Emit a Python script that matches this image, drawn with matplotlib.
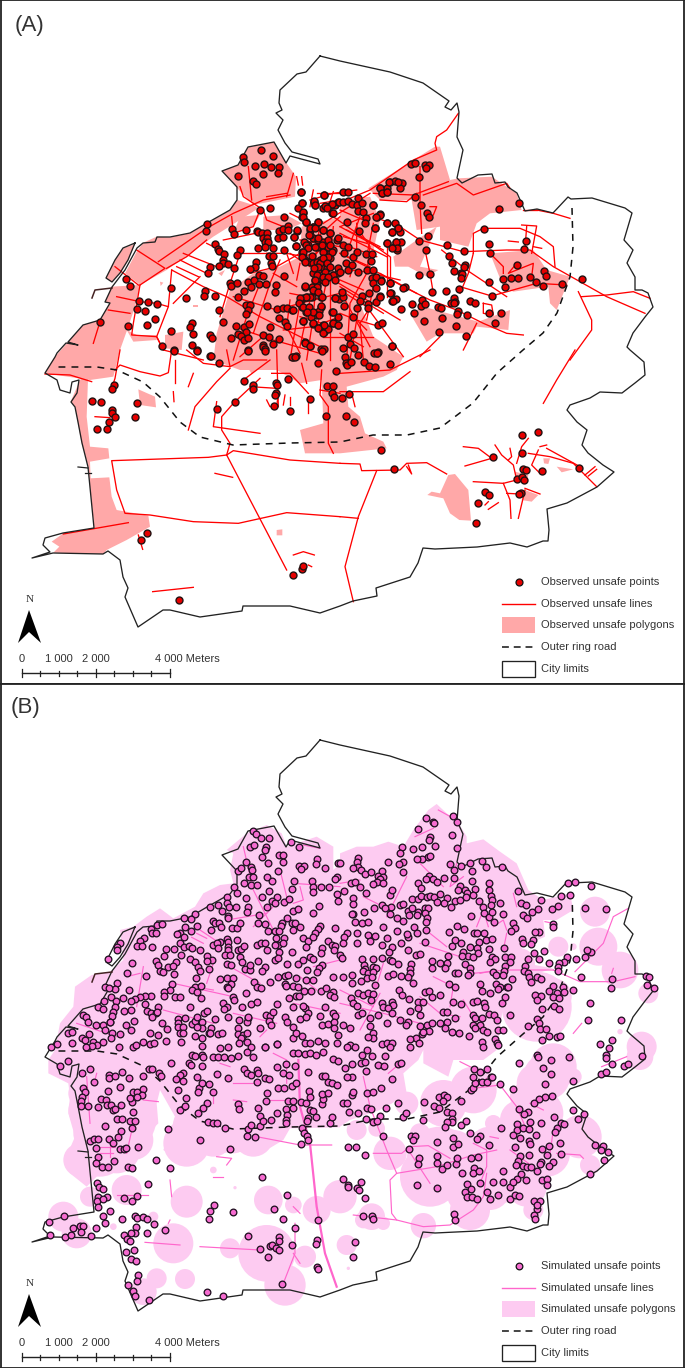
import matplotlib
matplotlib.use("Agg")
import matplotlib.pyplot as plt
from matplotlib.patches import Polygon, Circle, Rectangle

plt.rcParams['font.family'] = ['Liberation Sans', 'DejaVu Sans']

# ---------- map data in map pixels ----------
city_limits = [(320,56),(306,72),(297,74),(280,90),(279,103),(282,110),(276,113),(283,120),(278,130),(285,143),(292,152),(318,159),(320,164),(290,156),(286,163),(274,142),(248,147),(238,165),(222,171),(237,187),(237,200),(230,210),(207,223),(190,233),(170,237),(157,237),(155,242),(143,243),(137,248),(125,270),(112,287),(105,302),(110,303),(100,320),(83,325),(68,342),(78,345),(66,343),(57,353),(55,357),(45,373),(57,380),(60,390),(70,393),(72,382),(79,380),(77,393),(71,402),(75,407),(78,422),(82,443),(88,467),(90,487),(94,528),(63,533),(45,538),(43,545),(50,552),(32,558),(53,553),(103,554),(108,551),(120,560),(123,577),(128,588),(125,597),(138,627),(163,610),(170,610),(200,617),(242,611),(243,606),(290,606),(320,613),(340,606),(353,601),(377,596),(376,588),(410,577),(418,563),(423,548),(435,549),(477,547),(510,543),(527,547),(543,541),(548,541),(549,530),(547,509),(567,503),(597,487),(614,472),(603,465),(588,453),(582,445),(587,430),(577,422),(567,410),(570,405),(590,398),(600,392),(622,393),(635,383),(645,375),(644,362),(630,350),(627,347),(633,333),(645,317),(653,307),(648,293),(642,290),(635,290),(635,277),(627,263),(633,250),(624,240),(632,213),(625,208),(592,198),(571,199),(568,197),(553,213),(537,209),(525,211),(517,193),(508,187),(505,182),(495,183),(492,174),(478,175),(462,183),(457,178),(463,150),(457,137),(459,112),(457,103),(451,110),(445,107),(449,101),(423,83),(390,72),(340,61),(320,56)]
city_islet = [(135,243),(123,248),(115,260),(106,278),(112,282),(120,273),(128,260),(135,243)]
city_spur = [(92,298),(95,290),(112,288)]
city_pier_a = [(78,467),(88,468)]
city_pier_b = [(85,473),(91,473)]
ring_road = [(572,208),(573,247),(570,277),(557,313),(543,333),(523,350),(497,373),(473,403),(440,428),(407,435),(373,435),(340,442),(290,443),(233,445),(200,437),(180,422),(160,397),(143,382),(117,370),(97,367),(57,367)]

# observed polygons (crop coordinates: x/3+x0, y/3+y0)
C1, C2, C3, C4 = (0,40), (340,40), (0,350), (340,350)
C5, C6, C7, C8 = (0,46), (340,46), (0,356), (340,356)
C9 = (290,180)

def m(rows, c):
    return [(x/3 + c[0], y/3 + c[1]) for x, y in rows]

obs_polygons = [
    m([(745,322),(822,306),(860,370),(888,410),(885,470),(760,495),(712,445),(667,392),(715,375)], C1),
    m([(430,608),(470,590),(510,592),(570,580),(620,550),(690,510),(712,480),(760,495),(775,505),(640,590),(500,690),(420,735),(375,700),(410,635)], C1),
    m([(405,612),(370,625),(345,660),(318,715),(335,725),(360,700),(385,660)], C1),
    m([(335,740),(420,735),(405,800),(385,860),(360,930),(340,1010),(270,1020),(135,1000),(165,950),(205,905),(250,855),(300,840),(330,790),(315,785)], C1),
    m([(240,90),(265,60),(260,200),(270,290),(325,295),(328,325),(270,335),(272,385),(328,382),(335,440),(350,480),(445,497),(450,530),(380,570),(320,600),(310,612),(160,608),(178,590),(155,575),(190,550),(283,535),(270,410),(265,350),(245,280),(225,170),(212,155)], C3),
    m([(415,118),(465,140),(468,172),(420,165)], C3),
    m([(830,540),(847,538),(847,556),(830,556)], C3),
    m([(745,55),(768,60),(755,72)], C3),
    m([(495,885),(550,875),(545,930),(495,925)], C1),
    m([(380,870),(410,885),(470,885),(470,900),(400,905)], C1),
    m([(720,530),(780,525),(760,560),(700,580)], C1),
    m([(790,530),(860,525),(905,550),(860,570),(790,570)], C1),
    m([(655,700),(675,690),(665,708)], C1),
    m([(580,795),(595,795),(595,802),(580,802)], C1),
    m([(480,725),(490,728),(482,738)], C1),
    m([(650,880),(690,750),(760,700),(840,680),(900,650),(905,560),(1020,530),(1020,480),(1110,470),(1140,540),(1110,680),(1140,780),(1080,790),(1120,890),(1210,950),(1190,990),(1150,1010),(1040,1040),(1045,1100),(1080,1130),(1095,1180),(1150,1205),(1160,1225),(1020,1240),(915,1240),(900,1170),(970,1150),(965,1020),(900,1030),(830,990),(720,990),(640,960)], C1),
    m([(85,445),(220,360),(285,320),(300,320),(330,420),(355,415),(455,410),(530,460),(545,510),(450,520),(410,550),(385,620),(300,600),(300,560),(230,570),(215,480),(120,480)], C2),
    m([(160,650),(230,600),(290,560),(240,680),(295,690),(260,710),(205,680),(165,680)], C2),
    m([(450,640),(580,630),(620,690),(690,710),(650,810),(630,790),(625,740),(520,755),(490,740)], C2),
    m([(250,800),(415,845),(510,810),(505,870),(410,860),(400,880),(300,880),(260,905),(210,820)], C2),
    m([(325,375),(345,372),(385,420),(393,512),(358,510),(330,490),(310,445),(262,435),(275,425),(300,430)], C4),
    m([(555,420),(595,435),(575,455),(545,450)], C4),
    m([(525,365),(565,375),(560,400),(525,395)], C4),
    m([(610,325),(630,325),(625,342),(612,340)], C4),
    m([(650,350),(700,358),(665,367)], C4),
]

# observed lines
obs_lines_c1 = [
 [(475,665),(620,565),(700,520),(790,480),(870,465)], [(410,630),(495,685),(420,735)], [(345,680),(415,735)],
 [(350,770),(420,785),(470,790),(505,800),(515,690)], [(325,810),(390,820)], [(300,845),(280,910)],
 [(420,735),(400,850),(395,885),(470,890),(490,930)], [(505,800),(470,890),(490,930),(610,960)], [(500,685),(560,650),(620,600)],
 [(670,600),(790,575)], [(695,530),(700,580)], [(780,510),(760,560),(700,580)], [(530,680),(595,710)], [(550,640),(650,680)], [(540,660),(620,700)],
 [(600,710),(520,790)], [(515,690),(610,740),(680,770),(780,830),(880,880),(960,920)], [(720,440),(730,470),(790,510)], [(745,380),(755,480)],
 [(790,510),(800,540),(850,560)], [(660,830),(690,730),(720,640)], [(720,640),(800,640)], [(780,730),(740,830),(700,960)], [(840,660),(810,730),(790,790),(760,880)],
 [(800,640),(860,640),(910,650),(950,700),(1020,680)], [(860,470),(880,400)], [(890,410),(895,435)], [(905,410),(908,435)], [(800,470),(860,460)],
 [(750,700),(830,680),(900,640),(1020,530)], [(900,790),(880,900),(870,960)], [(950,700),(940,830),(920,960)], [(1020,760),(900,790),(830,810),(700,770)],
 [(1000,580),(950,640),(900,650)], [(820,700),(890,740)], [(950,460),(1020,460)], [(960,490),(1020,480)], [(930,500),(940,450)], [(1000,455),(985,500)],
 [(620,610),(680,640)], [(870,780),(860,860),(900,940)], [(990,700),(990,960)], [(1020,830),(940,860),(850,870)], [(800,880),(720,950)],
 [(1020,620),(900,600)], [(1000,560),(985,700)], [(860,640),(880,700)], [(700,860),(820,900),(960,940)],
]
obs_lines_c2 = [
 [(355,220),(320,270),(290,290),(285,310),(290,330),(220,360),(90,450),(-30,500)], [(250,465),(350,430),(400,465),(500,430),(510,445)], [(100,460),(220,465),(325,425)],
 [(120,480),(200,485),(230,460)], [(240,380),(240,490),(245,580)], [(590,510),(640,520),(690,535)], [(550,510),(590,510)],
 [(100,530),(180,560),(240,600),(370,635),(500,630),(570,630),(640,680),(800,770),(915,820)], [(725,770),(800,765),(880,755),(930,775)],
 [(400,640),(400,580),(430,565),(540,565),(600,590),(640,620),(645,680)], [(545,555),(590,558),(575,640)], [(560,560),(555,625)], [(400,640),(385,700),(360,760)],
 [(305,630),(380,690),(440,730),(500,770)], [(360,740),(455,768),(590,730),(680,735)], [(450,640),(490,680),(490,700)], [(530,670),(505,700),(580,670),(575,710)],
 [(715,755),(755,840),(755,870),(690,960)], [(0,640),(100,690),(190,740),(270,780),(350,810),(430,850),(500,880),(550,885)], [(410,850),(370,930)], [(300,890),(240,950)],
 [(140,600),(140,770)], [(150,650),(150,720)], [(255,630),(270,700),(280,760)], [(120,700),(230,760)], [(0,750),(80,800),(190,950)], [(0,560),(130,630)],
 [(50,560),(90,620),(80,700),(30,790),(20,960)], [(10,590),(80,610)], [(0,610),(110,650)], [(0,640),(90,680)], [(60,530),(20,640)], [(0,820),(50,840),(120,860)],
 [(0,720),(70,750)], [(60,780),(40,900),(30,960)], [(110,770),(60,850),(70,960)], [(270,500),(290,500),(280,525)], [(505,603),(535,606)], [(580,620),(605,625)],
 [(0,510),(70,540)], [(100,520),(0,560)], [(430,790),(430,820),(460,825),(455,795),(430,790)], [(0,880),(70,920)],
]
obs_lines_c3 = [
 [(345,60),(360,45),(420,65),(480,78),(505,68),(515,0)], [(360,0),(345,85),(335,115)], [(135,72),(210,75),(275,95)], [(560,0),(610,40),(690,50),(730,30),(800,30)],
 [(690,50),(680,0)], [(565,240),(585,170),(650,95),(690,55)], [(520,125),(522,155)], [(650,155),(640,230),(780,250)],
 [(780,85),(700,160),(665,200),(665,240),(690,280),(680,315),(860,660)], [(680,315),(625,322),(335,332),(350,420),(375,490),(450,495),(580,515),(715,520),(860,488),(1020,500)],
 [(680,315),(700,302),(870,330),(1020,340)], [(285,200),(330,203)], [(645,370),(698,382)], [(880,615),(910,605),(943,615)], [(458,725),(580,712)],
 [(190,552),(385,518)], [(415,555),(428,598)], [(925,645),(935,650)], [(815,70),(870,70),(925,130)], [(925,140),(925,190)], [(800,150),(810,170),(830,170),(835,130)],
 [(855,135),(850,165)], [(870,140),(870,165)], [(965,60),(960,135),(985,170),(985,280),(1000,310)], [(1020,130),(960,120)], [(750,110),(830,115)], [(830,0),(835,170)],
 [(730,90),(810,30)], [(905,40),(920,100)], [(580,70),(565,110)], [(525,30),(525,100)],
]
obs_lines_c4 = [
 [(0,70),(150,60),(270,0)], [(0,125),(130,125),(210,65)], [(35,130),(45,170)], [(0,340),(60,342),(65,362),(180,360),(200,340),(260,338),(320,372)],
 [(110,362),(55,500),(15,650),(40,755)], [(0,500),(55,505)], [(705,0),(650,90),(610,160)], [(200,350),(215,372),(205,345)], [(370,290),(415,295),(455,325),(375,348)],
 [(465,285),(485,315),(520,345),(530,390),(490,400),(400,395)], [(490,400),(510,450),(513,505)], [(500,430),(540,432)], [(555,415),(600,432)], [(555,420),(535,505)],
 [(565,265),(545,290),(530,340)], [(600,290),(620,285)], [(595,300),(575,345),(600,370)], [(565,310),(630,320),(700,340),(770,410)], [(620,295),(720,350)],
 [(735,375),(765,350)], [(745,378),(770,358)], [(435,465),(445,455)], [(445,478),(475,458)], [(510,295),(515,320),(505,330)],
]
obs_lines_c9 = [[(100,130),(240,40)],[(130,110),(300,230)],[(80,290),(200,270),(330,300)],[(200,130),(200,210),(180,290)],[(250,130),(230,230)],[(150,160),(290,230)],[(170,150),(270,200)],[(60,60),(130,40),(200,30)],[(0,100),(60,130)],[(30,250),(20,300)],[(0,220),(60,260)],[(90,130),(60,360),(30,500)],[(110,300),(80,450)],[(130,300),(330,420)],[(150,320),(280,400)],[(160,350),(240,500)],[(250,320),(230,420)],[(0,340),(100,360)],[(100,470),(250,470)],[(180,400),(230,450)],[(30,410),(130,440)]]

# observed points
obs_pts_c1 = [(783,330),(818,349),(728,350),(731,366),(766,378),(792,372),(812,380),(838,382),(833,398),(789,401),(715,409),(758,423),(767,432),(903,455),(906,490),(895,503),(908,520),(906,532),(918,545),(941,485),(945,496),(973,466),(968,505),(980,500),(993,495),(1005,495),(1015,485),(995,520),(811,504),(779,510),(851,532),(621,553),(619,574),(696,568),(702,582),(739,569),(771,572),(773,577),(787,580),(802,580),(838,573),(850,568),(863,558),(863,570),(891,573),(835,593),(848,592),(882,592),(790,595),(800,595),(795,605),(805,605),(795,620),(820,623),(773,623),(853,629),(889,618),(646,612),(653,627),(656,632),(671,641),(721,629),(712,646),(808,647),(818,647),(670,660),(669,670),(656,677),(684,671),(701,684),(631,681),(623,698),(769,665),(765,680),(751,688),(813,670),(817,677),(852,707),(377,716),(389,737),(513,743),(559,773),(615,754),(612,768),(644,769),(690,730),(692,737),(712,730),(745,726),(762,720),(778,706),(788,709),(778,732),(798,733),(827,736),(825,757),(752,740),(731,754),(713,772),(417,784),(443,785),(470,791),(412,806),(436,813),(464,836),(299,845),(383,857),(440,855),(513,872),(577,849),(571,861),(579,883),(575,915),(590,930),(630,885),(637,895),(694,895),(708,858),(713,883),(731,860),(738,875),(747,851),(722,888),(732,900),(744,893),(670,846),(658,811),(739,795),(750,795),(745,810),(738,822),(800,798),(830,807),(848,803),(862,803),(877,811),(838,835),(855,845),(860,857),(810,861),(788,885),(806,892),(838,898),(818,913),(790,915),(788,922),(796,928),(744,929),(631,948),(486,918),(523,930),(880,950),(887,948),(915,907),(931,918),(963,928),(972,927),(908,843),(938,851),(957,865),(972,875),(985,868),(968,855),(1000,850),(1013,855),(1013,832),(996,815),(962,800),(957,812),(948,825),(932,830),(918,815),(905,800),(900,785),(908,775),(920,770),(935,770),(963,770),(1005,775),(1018,778),(945,720),(955,715),(970,720),(985,710),(1000,705),(1015,700),(950,735),(945,750),(935,740),(915,740),(940,700),(955,690),(965,680),(980,685),(945,680),(930,665),(945,665),(960,660),(975,660),(990,655),(915,660),(905,635),(915,610),(925,615),(940,595),(955,600),(970,605),(985,600),(1010,600),(930,585),(930,570),(940,560),(955,547),(970,570),(990,578),(965,625),(975,635),(990,640),(985,620),(1000,630),(910,650),(950,620),(1013,683)]
obs_pts_c2 = [(100,496),(120,522),(112,530),(105,565),(142,550),(165,550),(175,563),(180,577),(155,577),(142,610),(168,605),(183,606),(162,622),(171,629),(120,445),(125,458),(140,445),(150,425),(165,423),(187,430),(180,445),(140,457),(213,372),(224,368),(255,375),(268,375),(259,383),(236,411),(224,472),(242,495),(262,520),(267,532),(265,589),(236,602),(257,630),(321,615),(371,633),(327,648),(336,668),(342,693),(363,700),(367,702),(363,714),(375,675),(372,682),(237,704),(269,703),(275,757),(319,754),(358,747),(342,775),(346,785),(333,788),(343,790),(389,782),(405,788),(353,812),(352,822),(381,825),(446,820),(482,820),(465,849),(447,726),(456,767),(348,858),(378,888),(298,877),(253,844),(306,834),(293,800),(303,805),(222,818),(183,808),(215,792),(243,798),(247,780),(256,792),(195,740),(190,745),(150,730),(152,760),(167,778),(155,783),(120,768),(107,785),(122,720),(155,918),(110,938),(115,937),(537,489),(478,506),(432,566),(446,613),(451,639),(558,602),(552,626),(530,674),(490,718),(495,741),(513,715),(533,715),(569,712),(589,726),(609,737),(612,693),(618,709),(665,733),(727,717)]
obs_pts_c3 = [(343,105),(335,117),(277,153),(302,155),(411,158),(335,180),(337,188),(345,200),(404,200),(327,216),(292,238),(321,237),(442,550),(423,569),(878,675),(905,658),(908,648),(537,750),(731,92),(758,105),(758,118),(827,100),(832,105),(828,128),(826,135),(823,167),(864,87),(705,157),(650,177),(930,146),(871,183),(978,199),(980,108),(1000,107),(995,130),(1003,140),(955,38),(1007,62),(875,22),(885,20),(632,18),(656,38),(590,2),(523,2),(743,2),(795,2),(965,2)]
obs_pts_c4 = [(14,20),(18,38),(22,45),(33,36),(53,14),(72,35),(88,48),(106,50),(150,42),(103,8),(112,8),(26,131),(7,143),(17,197),(43,217),(124,300),(161,358),(546,256),(594,246),(547,308),(459,320),(718,353),(605,362),(550,357),(557,360),(530,387),(546,382),(551,391),(436,427),(447,436),(544,430),(538,433),(413,458),(408,519)]
obs_pts_c9 = [(33,35),(103,45),(72,62),(75,75),(37,70),(40,97),(38,110),(47,125),(105,78),(125,72),(110,85),(128,100),(148,67),(160,35),(175,35),(160,65),(175,62),(185,72),(205,55),(200,75),(215,70),(205,92),(220,95),(228,115),(225,130),(172,125),(250,75),(270,105),(258,112),(255,145),(208,152),(290,130),(305,155),(325,145),(292,190),(318,185),(320,205),(305,205),(270,25),(275,38),(290,35),(298,5),(325,5),(85,125),(70,140),(60,145),(58,165),(75,145),(100,150),(120,158),(22,150),(12,172),(18,197),(42,185),(48,195),(55,205),(40,215),(35,230),(45,245),(75,200),(85,175),(95,195),(100,215),(120,195),(125,215),(115,230),(145,175),(160,195),(175,200),(163,220),(190,230),(200,215),(228,222),(245,222),(242,242),(65,228),(68,250),(80,245),(90,250),(100,235),(110,250),(120,262),(105,275),(85,260),(72,265),(130,285),(150,275),(168,250),(175,270),(185,255),(205,275),(230,270),(250,270),(80,285),(75,300),(100,290),(115,290),(135,300),(245,295),(258,290),(272,303),(248,310),(258,325),(300,310),(80,320),(105,305),(45,318),(70,330),(85,335),(60,350),(48,350),(30,355),(28,368),(95,350),(135,355),(160,352),(155,335),(215,348),(210,362),(238,338),(270,350),(300,340),(308,362),(40,380),(58,380),(68,395),(50,395),(8,390),(92,378),(88,405),(128,395),(163,378),(202,385),(235,372),(235,385),(188,410),(38,423),(68,430),(102,435),(85,445),(100,458),(130,430),(145,435),(265,435),(275,428),(175,470),(188,462),(45,490),(60,498),(160,503),(180,492),(192,505),(305,498)]

# simulated polygons
sim_main = (m([(180,880),(220,830),(225,770),(275,735),(330,725),(370,690),(360,600),(400,590),(440,560),(480,535),(520,565),(585,530),(610,490),(660,465),(700,460),(690,420),(700,370),(680,360),(740,310),(800,285),(845,310),(860,350),(890,340),(950,320),(1000,350),(1000,420),(1020,400)], C5)
 + m([(0,370),(50,350),(100,350),(145,335),(190,350),(220,300),(265,240),(290,222),(320,250),(350,270),(380,320),(380,340),(430,328),(480,365),(530,400),(565,480),(610,510),(690,490),(700,540),(650,570),(610,570),(615,620),(570,640),(545,650),(555,700),(640,715),(500,760),(470,960)], C6)
 + m([(430,60),(340,60),(325,110),(250,70),(250,30),(235,60),(190,100),(200,160),(120,210),(30,240),(0,260)], C8)
 + m([(1020,262),(870,265),(850,300),(800,330),(720,335),(640,340),(540,360),(490,330),(510,280),(525,230),(480,150),(470,190),(475,250),(440,285),(420,350),(380,375),(300,400),(260,440),(210,400),(195,360),(225,290),(205,220),(210,170),(205,130),(145,100),(145,60),(165,30)], C7))
sim_circles_c7 = [(260,210,55),(240,360,50),(280,280,60),(250,160,45),(350,230,120),(340,300,90),(380,450,45),(270,470,30),(190,530,45),(230,580,45),(520,610,60),(560,485,48),(690,625,30),(555,717,30),(470,715,30),(430,755,40),(640,390,10),(805,480,43),(950,510,42),(880,495,25),(800,640,85),(855,735,62),(915,650,33),(1020,480,25),(340,560,10),(460,530,15),(705,443,5),(560,310,70),(640,290,60),(760,290,60),(560,250,40),(700,290,50),(300,330,80),(290,220,80),(400,300,60),(350,330,70)]
sim_circles_c8 = [(0,470,50),(95,530,40),(70,540,25),(130,550,20),(250,557,38),(20,615,30),(25,685,5),(110,265,25),(240,280,30),(340,340,70),(150,340,50),(270,410,90),(390,510,60),(350,390,80),(460,250,25),(420,380,80),(500,390,60),(560,370,80),(590,280,85),(580,510,30),(620,340,70),(720,290,65),(750,375,30),(400,150,70),(310,190,70),(200,190,35),(120,130,70),(550,170,40),(640,80,70),(700,110,25),(605,90,40),(900,50,40),(50,270,30),(300,360,100),(450,330,70),(520,320,70),(560,440,60),(450,450,60),(380,460,60),(640,300,50),(600,220,70),(540,240,60),(480,420,70),(590,130,60),(620,110,70),(570,210,50)]
sim_circles_c6 = [(765,545,45),(775,650,57),(840,720,55),(925,790,30),(905,950,45),(655,650,30),(840,905,8),(700,650,10),(590,830,105),(640,800,55),(540,700,45)]

# simulated lines
sim_lines_c5 = [[(600,600),(660,640)],[(730,350),(760,480),(820,600)],[(520,760),(700,800)],[(690,710),(780,760)],[(680,570),(800,550)],[(580,770),(640,780)],[(430,710),(410,830)],[(380,740),(420,730)],[(490,840),(640,880)],[(640,700),(620,760)],[(880,820),(1020,850)],[(900,470),(910,510),(880,520)],[(230,880),(350,920)],[(840,420),(860,500)],[(780,920),(800,900)],[(940,710),(1020,690)],[(900,740),(950,780)],[(700,850),(830,880)],[(830,520),(760,590)],[(1020,470),(880,460)],[(910,345),(960,355)],[(590,610),(620,625)],[(575,622),(610,640)]]
sim_lines_c6 = [[(0,460),(60,450)],[(70,500),(150,540)],[(225,320),(280,295)],[(295,240),(340,265)],[(240,400),(310,470)],[(200,440),(140,560)],[(240,640),(360,680)],[(410,590),(430,540),(445,590)],[(460,590),(490,570),(500,600)],[(500,610),(490,660)],[(520,490),(530,530)],[(0,780),(100,830)],[(130,700),(100,800)],[(0,820),(130,850),(240,880)],[(280,740),(340,770),(330,830)],[(270,610),(320,650)],[(420,730),(470,720)],[(350,400),(330,470),(370,440)],[(370,810),(400,860)],[(120,790),(60,900)],[(240,800),(300,850),(360,860)],[(615,575),(640,580)],[(820,715),(815,730)],[(705,725),(790,640),(820,560),(865,535)],[(640,720),(720,755),(820,755),(885,740)],[(400,730),(500,720),(640,720)],[(700,910),(725,880)]]
sim_lines_c7 = [[(260,110),(270,250)],[(330,290),(330,350)],[(295,320),(345,320)],[(300,340),(340,340)],[(350,465),(445,465)],[(650,350),(695,355),(680,375)],[(640,410),(670,410)],[(430,180),(475,185)],[(400,250),(380,340)],[(700,130),(760,130)],[(810,180),(890,180)],[(640,190),(640,170)],[(820,40),(860,60),(860,130)],[(660,70),(690,80)],[(700,180),(740,185)],[(900,670),(880,640)],[(880,500),(900,520)],[(510,540),(505,550)],[(290,100),(285,120)],[(600,620),(780,630)],[(435,607),(540,615)],[(770,290),(900,315),(995,315)],[(885,550),(885,640),(850,730)],[(510,420),(515,470)]]
sim_lines_c8 = [[(70,110),(90,200),(140,330),(170,400),(150,420),(155,520),(170,540),(250,560),(330,555),(400,510),(430,470),(440,400)],[(170,400),(290,380),(400,345),(470,330)],[(100,340),(185,340),(210,320),(265,317),(330,355)],[(205,330),(270,430)],[(40,525),(170,540)],[(480,135),(530,200),(560,270)],[(400,145),(480,135)],[(650,340),(720,345),(730,355)],[(145,100),(180,70)],[(360,65),(400,85)],[(400,145),(440,115)],[(570,190),(610,210)],[(400,310),(440,330),(440,380),(420,430)],[(450,290),(475,295)],[(640,270),(630,340)],[(510,330),(600,395)],[(785,80),(860,50)]]
sim_main_road = [(895,60),(900,200),(930,310),(950,500),(975,640),(1010,740)]

# simulated points
sim_pts_c5 = [(758,302),(769,313),(784,325),(807,323),(751,351),(762,344),(797,352),(795,360),(785,380),(803,399),(838,374),(850,376),(849,397),(738,395),(873,337),(897,351),(951,387),(948,402),(974,414),(896,407),(912,408),(903,417),(1015,400),(715,423),(722,415),(754,410),(755,420),(833,422),(748,441),(760,442),(800,442),(815,454),(733,458),(752,464),(770,466),(881,454),(936,453),(876,476),(938,470),(964,471),(987,472),(940,485),(1010,440),(1005,447),(702,470),(710,488),(808,482),(681,500),(785,502),(832,500),(738,505),(816,512),(826,520),(852,515),(867,507),(800,531),(1012,493),(1015,512),(630,532),(655,525),(665,543),(680,520),(686,530),(707,530),(744,532),(741,545),(878,543),(894,536),(956,527),(940,549),(584,553),(685,557),(684,565),(776,556),(553,564),(572,568),(590,587),(638,572),(645,580),(657,578),(662,591),(697,594),(710,594),(720,580),(775,578),(795,583),(860,565),(845,580),(843,587),(875,580),(885,580),(880,600),(900,590),(805,604),(825,604),(837,602),(960,587),(955,598),(1005,595),(472,585),(487,583),(452,598),(457,610),(468,610),(555,590),(572,603),(633,600),(540,608),(530,613),(552,622),(432,623),(420,633),(410,647),(426,648),(455,651),(360,640),(352,650),(352,660),(323,688),(682,627),(685,635),(710,630),(660,635),(640,645),(650,640),(653,655),(540,640),(552,650),(568,648),(575,655),(523,657),(497,657),(493,677),(600,660),(685,650),(685,660),(675,675),(690,675),(715,660),(722,657),(732,648),(770,645),(782,640),(795,638),(828,625),(835,645),(852,625),(850,640),(825,645),(838,665),(800,660),(875,665),(908,625),(945,610),(925,632),(940,620),(918,650),(965,655),(985,632),(995,645),(1005,647),(1003,660),(963,668),(543,675),(570,688),(585,695),(620,678),(635,690),(620,692),(467,693),(473,705),(397,698),(505,710),(528,697),(518,708),(480,722),(490,725),(593,710),(600,722),(627,717),(680,702),(692,704),(720,682),(725,695),(735,717),(750,720),(750,705),(775,692),(795,712),(785,722),(860,703),(825,690),(833,685),(895,703),(910,690),(930,680),(938,688),(965,705),(957,715),(950,725),(920,720),(380,728),(438,738),(522,733),(588,744),(660,748),(680,745),(698,743),(693,762),(680,770),(685,775),(835,742),(855,738),(865,734),(855,762),(857,768),(888,745),(878,768),(893,770),(810,755),(763,755),(770,770),(782,775),(918,750),(940,750),(1000,742),(350,760),(345,776),(316,772),(328,775),(388,780),(515,763),(510,780),(492,785),(491,797),(525,800),(540,800),(585,770),(575,780),(590,785),(604,768),(604,803),(737,788),(964,782),(978,775),(1000,785),(912,783),(932,782),(990,795),(1003,802),(452,798),(435,798),(420,802),(405,808),(392,813),(368,803),(333,800),(348,812),(312,812),(293,830),(310,836),(345,832),(340,845),(335,858),(330,876),(372,843),(392,840),(436,822),(473,830),(440,842),(452,848),(467,848),(472,845),(457,862),(570,830),(668,818),(682,830),(673,838),(700,800),(702,810),(726,830),(752,823),(772,817),(830,823),(866,805),(888,797),(898,797),(880,832),(915,835),(908,828),(925,848),(975,830),(1000,850),(960,858),(1005,857),(250,855),(258,860),(263,875),(289,885),(310,885),(330,875),(403,873),(378,886),(394,900),(486,878),(500,896),(533,866),(555,865),(535,880),(533,890),(550,890),(575,883),(585,873),(590,860),(612,850),(622,842),(605,877),(607,895),(590,890),(633,895),(628,908),(645,868),(683,862),(718,870),(745,865),(740,875),(715,893),(745,860),(780,893),(797,855),(810,858),(806,872),(812,885),(820,847),(855,860),(862,877),(880,890),(900,868),(918,862),(965,885),(985,882),(1003,877),(205,908),(215,905),(315,900),(335,908),(360,911),(332,925),(267,913),(245,923),(255,930),(280,935),(290,945),(217,940),(310,937),(170,943),(152,950),(277,948),(357,952),(258,952),(400,950),(408,945),(428,935),(450,908),(475,915),(497,933),(450,942),(463,940),(540,908),(585,917),(548,910),(607,925),(630,910),(655,912),(667,908),(543,935),(605,948),(660,955),(683,952),(715,912),(728,915),(740,910),(722,925),(717,938),(742,937),(752,952),(795,950),(830,943),(880,925),(887,910),(905,917),(915,940),(930,938),(955,933),(975,938),(1013,915),(1003,895),(1012,940)]
sim_pts_c6 = [(340,258),(352,275),(259,263),(278,275),(283,278),(234,298),(335,315),(270,320),(268,330),(286,347),(352,353),(185,352),(218,358),(246,352),(180,368),(263,380),(270,378),(245,387),(232,388),(143,395),(188,395),(178,402),(190,427),(55,385),(50,395),(55,410),(40,415),(62,420),(75,432),(93,425),(126,422),(115,437),(128,440),(120,447),(110,455),(130,460),(100,463),(33,458),(45,457),(60,472),(78,490),(13,482),(150,495),(157,480),(125,525),(103,535),(40,505),(40,522),(0,400),(330,402),(343,420),(362,409),(390,399),(425,393),(437,410),(487,412),(395,422),(266,437),(258,447),(280,447),(292,457),(311,444),(342,445),(395,453),(235,460),(243,475),(360,468),(375,480),(380,490),(355,480),(405,477),(448,458),(448,480),(452,497),(533,484),(604,510),(662,498),(690,495),(685,459),(706,455),(752,468),(215,507),(235,507),(243,497),(260,502),(270,498),(282,500),(300,492),(290,515),(320,505),(345,512),(360,510),(378,500),(400,495),(417,512),(312,520),(333,532),(180,525),(190,522),(152,530),(135,535),(150,552),(170,565),(190,572),(205,542),(215,535),(208,555),(235,545),(230,555),(255,535),(265,535),(255,550),(262,565),(258,575),(40,552),(35,552),(72,547),(45,575),(65,580),(85,575),(130,590),(223,590),(232,610),(205,620),(170,604),(200,612),(258,600),(455,510),(452,525),(430,530),(432,550),(448,560),(462,575),(455,545),(479,520),(488,552),(392,558),(542,518),(557,525),(577,547),(593,537),(550,555),(560,565),(520,578),(525,595),(513,603),(598,607),(585,607),(635,537),(653,528),(735,533),(798,537),(640,582),(638,590),(350,587),(372,598),(327,606),(403,608),(410,610),(432,608),(437,630),(455,627),(418,635),(345,630),(362,640),(335,648),(20,610),(12,620),(50,608),(85,615),(105,618),(90,632),(140,623),(125,645),(155,650),(148,665),(182,640),(255,636),(205,660),(228,674),(240,672),(10,640),(50,640),(545,628),(548,638),(580,630),(573,642),(492,655),(448,658),(368,665),(390,650),(410,655),(415,668),(385,678),(367,678),(400,680),(325,678),(455,682),(465,688),(450,695),(495,680),(512,680),(510,695),(495,708),(493,722),(581,668),(611,662),(564,687),(596,688),(626,700),(680,680),(708,687),(735,682),(752,665),(742,660),(672,695),(658,700),(653,710),(655,722),(724,740),(816,747),(814,775),(918,737),(926,742),(922,765),(942,773),(0,675),(5,685),(67,688),(100,688),(72,705),(75,718),(68,722),(100,712),(108,715),(85,730),(98,725),(125,685),(150,690),(155,692),(175,703),(213,703),(210,717),(210,730),(275,693),(300,700),(275,715),(320,700),(315,715),(375,702),(390,715),(345,730),(355,728),(390,730),(383,735),(460,725),(467,735),(490,735),(555,708),(552,722),(565,730),(568,740),(590,742),(603,747),(517,747),(573,757),(10,740),(35,735),(62,752),(80,745),(95,742),(145,737),(158,732),(182,737),(205,742),(218,758),(35,758),(105,765),(328,762),(345,772),(420,762),(425,782),(467,762),(480,770),(450,788),(475,778),(500,770),(505,770),(495,802),(487,818),(640,768),(668,772),(627,782),(650,790),(640,800),(657,805),(672,787),(698,780),(585,795),(603,798),(590,810),(750,820),(55,790),(70,795),(85,790),(98,792),(92,810),(33,803),(40,820),(50,827),(125,820),(130,830),(155,815),(160,825),(143,835),(155,850),(178,780),(185,795),(207,808),(235,815),(250,815),(233,835),(210,842),(240,855),(275,802),(255,785),(268,783),(300,795),(340,817),(362,822),(398,815),(412,812),(432,818),(436,832),(308,845),(320,845),(448,852),(462,856),(470,870),(510,856),(605,836),(642,828),(657,838),(55,855),(65,848),(115,855),(140,880),(180,870),(205,875),(198,885),(240,887),(260,885),(275,880),(300,880),(320,875),(345,865),(400,855),(405,865),(425,865),(400,885),(420,885),(90,865),(90,888),(10,885),(30,895),(100,908),(100,925),(85,920),(245,912),(268,903),(250,905),(315,893),(335,905),(358,910),(388,918),(405,893),(430,900),(442,907),(475,900),(490,900),(565,887),(590,868),(598,878),(600,897),(617,897),(628,917),(650,920),(660,918),(607,930),(743,869),(843,870),(780,943),(816,930),(808,955),(228,925),(210,928),(237,940),(125,943),(140,940),(155,940),(150,950),(30,945),(45,950),(20,950),(210,950),(425,935),(465,928),(470,940),(430,950),(473,945)]
sim_pts_c7 = [(181,77),(205,62),(245,98),(270,88),(283,126),(328,105),(328,115),(345,108),(367,97),(386,113),(428,107),(447,87),(456,88),(478,98),(483,108),(513,68),(248,143),(254,157),(247,170),(243,183),(243,197),(264,198),(294,202),(325,153),(360,140),(302,178),(318,180),(320,195),(332,195),(338,210),(345,207),(363,196),(395,185),(390,175),(400,157),(410,155),(428,148),(425,165),(412,172),(400,215),(350,237),(365,236),(390,244),(405,244),(395,265),(315,257),(363,272),(355,290),(327,298),(340,310),(270,303),(283,298),(293,297),(287,325),(295,350),(287,368),(305,380),(325,381),(343,364),(360,326),(372,328),(379,325),(413,321),(384,380),(396,383),(468,361),(510,385),(503,266),(600,301),(690,326),(292,428),(296,440),(310,446),(443,433),(295,470),(290,482),(320,470),(310,478),(295,500),(373,473),(395,482),(410,467),(192,527),(147,547),(150,585),(196,590),(212,586),(220,563),(240,558),(250,558),(243,577),(273,588),(287,565),(310,527),(330,512),(315,548),(367,537),(405,527),(412,535),(428,530),(440,538),(408,560),(461,553),(405,580),(393,578),(372,585),(380,598),(390,602),(440,580),(494,571),(403,630),(378,637),(393,657),(407,662),(414,706),(412,722),(384,734),(398,754),(405,769),(448,781),(620,755),(668,768),(785,412),(861,466),(821,508),(850,536),(884,565),(641,495),(630,512),(628,538),(698,517),(743,589),(955,541),(950,600),(947,612),(876,614),(836,590),(836,602),(810,617),(815,615),(828,625),(838,630),(780,628),(803,651),(845,731),(952,680),(955,687),(904,312),(905,265),(912,280),(920,287),(925,300),(533,150),(558,173),(540,210),(555,197),(598,145),(595,155),(605,130),(628,133),(638,157),(620,190),(608,203),(595,220),(625,245),(638,248),(650,248),(676,265),(745,268),(742,288),(765,290),(752,255),(780,258),(773,205),(780,228),(790,242),(812,240),(832,220),(858,208),(878,205),(860,225),(857,240),(858,250),(800,160),(798,183),(835,145),(853,145),(875,138),(888,130),(865,182),(880,184),(903,185),(918,190),(930,210),(940,212),(925,235),(922,242),(948,232),(965,192),(970,178),(965,162),(985,158),(927,152),(930,170),(985,125),(997,130),(1012,135),(965,108),(975,108),(925,95),(590,110),(652,103),(684,113),(772,127),(795,113),(808,118),(733,87),(772,90),(773,100),(740,100),(752,105),(830,80),(858,72),(885,78),(848,100),(868,105),(715,192),(716,207),(605,45),(610,50),(605,78),(575,45),(585,48),(640,50),(655,52),(672,52),(693,55),(715,48),(740,35),(760,52),(795,20),(830,13),(880,40),(893,40),(915,43),(930,40),(948,45),(968,35),(1000,58),(1015,62),(567,70),(572,75),(550,100),(540,105),(528,118),(550,122),(990,250),(997,232)]
sim_pts_c8 = [(10,190),(22,188),(28,217),(53,220),(35,165),(40,155),(82,158),(98,155),(124,143),(156,118),(35,110),(20,110),(78,92),(115,75),(133,78),(175,72),(182,70),(62,70),(75,65),(37,72),(15,85),(135,47),(97,47),(80,30),(65,45),(175,190),(253,187),(137,203),(80,205),(94,206),(78,236),(120,228),(98,245),(110,243),(188,232),(198,220),(248,240),(282,197),(296,205),(322,215),(337,218),(335,237),(335,245),(320,245),(316,260),(362,255),(378,242),(296,170),(312,165),(322,170),(310,183),(364,183),(392,150),(398,143),(405,130),(425,125),(440,127),(453,112),(420,95),(403,87),(440,86),(398,110),(457,110),(480,132),(518,148),(536,68),(590,45),(595,50),(610,83),(633,60),(634,103),(615,131),(636,167),(615,172),(598,177),(582,190),(700,124),(688,52),(783,103),(798,95),(815,72),(852,78),(863,72),(905,47),(799,45),(798,53),(537,208),(565,215),(553,223),(642,231),(602,248),(570,245),(530,252),(532,270),(548,265),(568,268),(540,294),(518,286),(588,286),(483,263),(664,250),(672,252),(650,265),(644,275),(660,310),(626,317),(606,327),(620,345),(662,343),(568,303),(570,313),(525,321),(566,344),(540,349),(533,362),(527,375),(548,378),(560,380),(572,380),(604,367),(600,372),(590,392),(638,367),(628,378),(544,402),(488,393),(557,421),(530,418),(490,425),(510,440),(520,425),(606,420),(622,417),(620,436),(458,425),(420,428),(380,433),(394,448),(374,456),(381,470),(396,472),(411,477),(440,455),(449,476),(473,465),(511,476),(526,465),(537,469),(581,484),(600,482),(590,508),(583,525),(585,537),(590,495),(238,354),(234,372),(290,347),(291,370),(306,388),(321,374),(347,372),(351,355),(393,354),(415,351),(401,385),(400,398),(417,393),(367,400),(448,316),(420,287),(410,296),(390,278),(340,293),(338,320),(353,312),(291,305),(207,327),(212,288),(225,288),(220,300),(128,289),(76,346),(23,322),(47,322),(231,436),(290,445),(8,417),(63,425),(50,443),(25,435),(24,442),(58,451),(74,473),(68,528),(97,528),(100,537),(342,521),(345,540),(44,607),(40,650),(699,211),(733,221),(714,237),(765,315),(788,318),(784,331),(805,336),(792,361),(750,402)]

# legend and scale text
legend_a = ["Observed unsafe points", "Observed unsafe lines", "Observed unsafe polygons", "Outer ring road", "City limits"]
legend_b = ["Simulated unsafe points", "Simulated unsafe lines", "Simulated unsafe polygons", "Outer ring road", "City limits"]
scale_labels = [("0", 22, 'center'), ("1 000", 59, 'center'), ("2 000", 95.5, 'center'), ("4 000 Meters", 155, 'left')]

BLACK = '#222222'
TXT = '#333333'

fig = plt.figure(figsize=(6.85, 13.68), dpi=100, facecolor='white')


def make_axes(bottom_px, top_px):
    ax = fig.add_axes([1/685, (1368-bottom_px)/1368, 683/685, (bottom_px-top_px)/1368])
    ax.set_xlim(1, 684)
    ax.set_ylim(bottom_px-top_px, 0)
    ax.set_xticks([]); ax.set_yticks([])
    for s in ax.spines.values():
        s.set_linewidth(1.3); s.set_color(BLACK)
    return ax


def xy(rows):
    return [p[0] for p in rows], [p[1] for p in rows]


def draw_common(ax, labels, pt_face, pt_ms, line_col, poly_col, tag, tag_xy):
    ax.plot(*xy(ring_road), color='#111111', lw=1.1, ls=(0, (4.5, 4)), zorder=4)
    ax.plot(*xy(city_limits), color=BLACK, lw=0.95, zorder=5, solid_joinstyle='round')
    ax.plot(*xy(city_islet), color=BLACK, lw=0.95, zorder=5)
    ax.plot(*xy(city_spur), color='#442222', lw=1.1, zorder=5)
    ax.plot(*xy(city_pier_a), color=BLACK, lw=0.9, zorder=5)
    ax.plot(*xy(city_pier_b), color=BLACK, lw=0.9, zorder=5)
    # legend
    ys = [582, 604, 625.5, 647, 669]
    ax.plot([519], [ys[0]], 'o', mfc=pt_face, mec='#111111', mew=0.9, ms=pt_ms)
    ax.plot([502, 535], [ys[1]]*2, color=line_col, lw=1)
    ax.add_patch(Rectangle((502, 617), 33, 16, fc=poly_col, ec='none'))
    ax.plot([502, 535], [ys[3]]*2, color='#111111', lw=1.1, ls=(0, (4.5, 3.2)))
    ax.add_patch(Rectangle((502, 661), 33, 16, fc='white', ec=BLACK, lw=0.95))
    for y, t in zip(ys, labels):
        ax.text(541, y, t, fontsize=8, color=TXT, va='center', ha='left')
    # north arrow
    ax.add_patch(Polygon([(29, 610), (18, 643), (29, 632), (41, 643)], fc='black', ec='none'))
    ax.text(30, 599, 'N', fontsize=8, family='Liberation Serif', color=TXT, ha='center', va='center')
    # scale bar
    ax.plot([22, 169.5], [673, 673], color=BLACK, lw=1)
    for i in range(9):
        x = 22 + i*18.44
        h = 4 if i in (0, 4, 8) else 2.5
        ax.plot([x, x], [673-h, 673+h], color=BLACK, lw=0.9)
    for t, x, ha in scale_labels:
        ax.text(x, 659, t, fontsize=8, color=TXT, ha=ha, va='center')
    ax.text(tag_xy[0], tag_xy[1], tag, fontsize=16, color=TXT, ha='left', va='center')


# ---------- panel A ----------
axA = make_axes(684, 0)
OBS_POLY = '#FFA8A8'
for pg in obs_polygons:
    axA.add_patch(Polygon(pg, fc=OBS_POLY, ec='none', zorder=1))
for group, c in ((obs_lines_c1, C1), (obs_lines_c2, C2), (obs_lines_c3, C3), (obs_lines_c4, C4), (obs_lines_c9, C9)):
    for ln in group:
        axA.plot(*xy(m(ln, c)), color='#FF0000', lw=0.95, zorder=3)
for group, c in ((obs_pts_c1, C1), (obs_pts_c2, C2), (obs_pts_c3, C3), (obs_pts_c4, C4), (obs_pts_c9, C9)):
    px, py = xy(m(group, c))
    axA.plot(px, py, 'o', mfc='#E60000', mec='#221111', mew=1.0, ms=5.0, zorder=6, ls='none')
draw_common(axA, legend_a, '#E60000', 5.0, '#FF0000', OBS_POLY, '(A)', (15, 26))

# ---------- panel B ----------
axB = make_axes(1368, 684)
SIM_POLY = '#FDCBF1'
SIM_LINE = '#FF66CC'
axB.add_patch(Polygon(sim_main, fc=SIM_POLY, ec='none', zorder=1))
for group, c in ((sim_circles_c6, C6), (sim_circles_c7, C7), (sim_circles_c8, C8)):
    for x, y, r in group:
        cx, cy = m([(x, y)], c)[0]
        axB.add_patch(Circle((cx, cy), r/3, fc=SIM_POLY, ec='none', zorder=1))
for group, c in ((sim_lines_c5, C5), (sim_lines_c6, C6), (sim_lines_c7, C7), (sim_lines_c8, C8)):
    for ln in group:
        axB.plot(*xy(m(ln, c)), color=SIM_LINE, lw=0.85, zorder=3)
axB.plot(*xy(m(sim_main_road, C7)), color=SIM_LINE, lw=1.6, zorder=3)
for group, c in ((sim_pts_c5, C5), (sim_pts_c6, C6), (sim_pts_c7, C7), (sim_pts_c8, C8)):
    px, py = xy(m(group, c))
    axB.plot(px, py, 'o', mfc='#F66BD0', mec='#221122', mew=0.95, ms=4.8, zorder=6, ls='none')
draw_common(axB, legend_b, '#F66BD0', 4.8, SIM_LINE, SIM_POLY, '(B)', (11, 24))

fig.savefig('out.png', dpi=100)
